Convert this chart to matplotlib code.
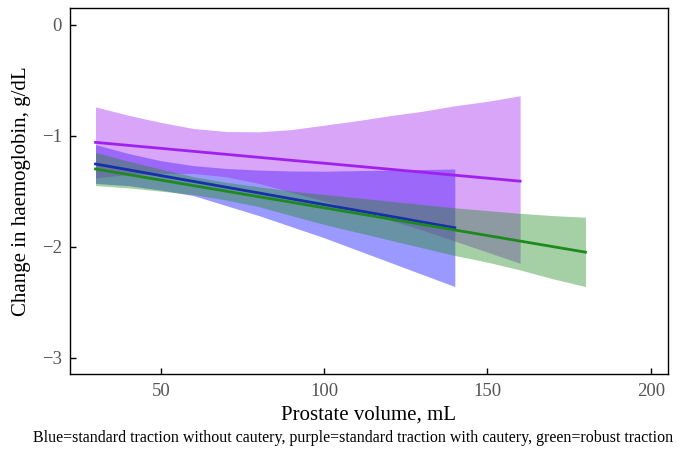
import matplotlib
matplotlib.use("Agg")
import matplotlib.pyplot as plt

# ---- data ----
purple_x = [30, 40, 50, 60, 70, 80, 90, 100, 110, 120, 130, 140, 150, 160]
purple_line = [-1.06, -1.087, -1.114, -1.141, -1.168, -1.195, -1.222, -1.248, -1.275, -1.302, -1.329, -1.356, -1.383, -1.41]
purple_upper = [-0.74, -0.815, -0.88, -0.935, -0.962, -0.965, -0.945, -0.905, -0.865, -0.82, -0.78, -0.73, -0.69, -0.64]
purple_lower = [-1.38, -1.35, -1.34, -1.34, -1.37, -1.43, -1.51, -1.59, -1.67, -1.76, -1.85, -1.95, -2.05, -2.15]

blue_x = [30, 40, 50, 60, 70, 80, 90, 100, 110, 120, 130, 140]
blue_line = [-1.255, -1.307, -1.36, -1.412, -1.464, -1.516, -1.569, -1.621, -1.673, -1.725, -1.778, -1.83]
blue_upper = [-1.08, -1.16, -1.225, -1.27, -1.295, -1.31, -1.318, -1.32, -1.315, -1.31, -1.305, -1.30]
blue_lower = [-1.43, -1.45, -1.49, -1.54, -1.63, -1.72, -1.82, -1.92, -2.03, -2.14, -2.25, -2.36]

green_x = [30, 40, 50, 60, 70, 80, 90, 100, 110, 120, 130, 140, 150, 160, 170, 180]
green_line = [-1.30, -1.35, -1.40, -1.45, -1.50, -1.55, -1.60, -1.65, -1.70, -1.75, -1.80, -1.85, -1.90, -1.95, -2.00, -2.05]
green_upper = [-1.15, -1.23, -1.30, -1.37, -1.42, -1.46, -1.50, -1.53, -1.56, -1.59, -1.62, -1.65, -1.675, -1.70, -1.72, -1.735]
green_lower = [-1.45, -1.47, -1.50, -1.53, -1.58, -1.64, -1.72, -1.80, -1.87, -1.94, -2.01, -2.08, -2.14, -2.21, -2.29, -2.36]

x_ticks = [50, 100, 150, 200]
y_ticks = [0, -1, -2, -3]
y_tick_labels = ["0", "\u22121", "\u22122", "\u22123"]

x_label = "Prostate volume, mL"
y_label = "Change in haemoglobin, g/dL"
caption = ("Blue=standard traction without cautery, purple=standard traction with cautery, "
           "green=robust traction")

plt.rcParams['font.family'] = ['Liberation Serif', 'DejaVu Serif']

fig = plt.figure(figsize=(6.8, 4.53), dpi=100)
ax = fig.add_axes([0.103, 0.174, 0.879, 0.808])

ax.fill_between(blue_x, blue_lower, blue_upper, color='#0000ff', alpha=0.4, linewidth=0)
ax.fill_between(purple_x, purple_lower, purple_upper, color='#a020f0', alpha=0.4, linewidth=0)
ax.fill_between(green_x, green_lower, green_upper, color='#1e8a1e', alpha=0.4, linewidth=0)

ax.plot(purple_x, purple_line, color='#a020f0', lw=2)
ax.plot(blue_x, blue_line, color='#1530a8', lw=2)
ax.plot(green_x, green_line, color='#1e8a1e', lw=2)

ax.set_xlim(22.2, 205.2)
ax.set_ylim(-3.15, 0.15)
ax.set_xticks(x_ticks)
ax.set_yticks(y_ticks)
ax.set_yticklabels(y_tick_labels)
ax.tick_params(direction='in', length=4, width=1, labelsize=13.5, labelcolor='#555555', pad=6)
for s in ax.spines.values():
    s.set_linewidth(1)
    s.set_color('black')

ax.set_xlabel(x_label, fontsize=15, labelpad=4)
ax.set_ylabel(y_label, fontsize=15, labelpad=8)
fig.text(0.519, 0.033, caption, ha='center', va='center', fontsize=11.5)

fig.savefig("out.png", dpi=100)
